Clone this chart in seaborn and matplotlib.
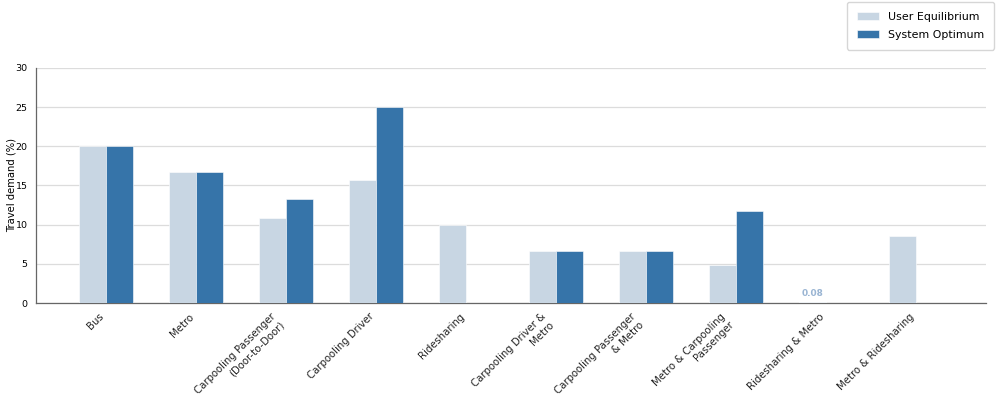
import pandas as pd
import seaborn as sns
import matplotlib.pyplot as plt

categories = ['Bus', 'Metro', 'Carpooling Passenger\n(Door-to-Door)', 'Carpooling Driver',
              'Ridesharing', 'Carpooling Driver &\nMetro', 'Carpooling Passenger\n& Metro',
              'Metro & Carpooling\nPassenger', 'Ridesharing & Metro', 'Metro & Ridesharing']
user_eq = [20.0, 16.7, 10.8, 15.7, 10.0, 6.6, 6.6, 4.8, 0.08, 8.5]
system_opt = [20.0, 16.7, 13.3, 25.0, 0.0, 6.6, 6.6, 11.7, 0.0, 0.0]
series = ['User Equilibrium', 'System Optimum']

data = pd.DataFrame({
    'mode': categories * 2,
    'demand': user_eq + system_opt,
    'scenario': [series[0]] * len(categories) + [series[1]] * len(categories),
})

sns.set_style('white')
plt.rcParams['text.color'] = 'black'
plt.rcParams['xtick.color'] = 'black'
plt.rcParams['ytick.color'] = 'black'
plt.rcParams['axes.labelcolor'] = 'black'

fig = plt.figure(figsize=(9.96, 4.09), dpi=100)
ax = fig.add_axes([0.0361, 0.259, 0.954, 0.575])

sns.barplot(data=data, x='mode', y='demand', hue='scenario', hue_order=series,
            palette=['#c8d6e3', '#3674a9'], width=0.6, saturation=1,
            edgecolor='white', linewidth=0.4, ax=ax, zorder=3)

# small value label for the near-zero bar
for i, v in enumerate(user_eq):
    if 0 < v < 1:
        ax.annotate(f'{v:.2f}', (i - 0.15, v), xytext=(0, 3), textcoords='offset points',
                    ha='center', va='bottom', fontsize=6.5, fontweight='bold', color='#9ab5d3')

ax.set_xlim(-0.78, 9.78)
ax.set_ylim(0, 30)
ax.set_yticks(range(0, 31, 5))
ax.yaxis.grid(True, color='#dcdcdc', linewidth=0.9, zorder=0)
ax.set_axisbelow(True)
ax.set_xlabel('')
ax.set_ylabel('Travel demand (%)', fontsize=7.2, labelpad=-0.5)
ax.tick_params(axis='both', labelsize=6.8, length=3, width=0.8, pad=3)
ax.tick_params(axis='x', labelsize=7.3, colors='#222222')
ax.tick_params(axis='both', color='#666666')
ax.set_xticks(range(len(categories)))
ax.set_xticklabels(categories, rotation=45, ha='right')
for s in ['top', 'right']:
    ax.spines[s].set_visible(False)
for s in ['left', 'bottom']:
    ax.spines[s].set_color('#666666')
    ax.spines[s].set_linewidth(0.9)

leg = ax.legend(loc='upper right', bbox_to_anchor=(0.998, 0.996), bbox_transform=fig.transFigure,
                borderaxespad=0, fontsize=7.9, frameon=True, edgecolor='#cccccc', fancybox=True,
                handlelength=2.0, handletextpad=0.85, borderpad=0.9, labelspacing=0.75)

fig.savefig('out.png', dpi=100)
